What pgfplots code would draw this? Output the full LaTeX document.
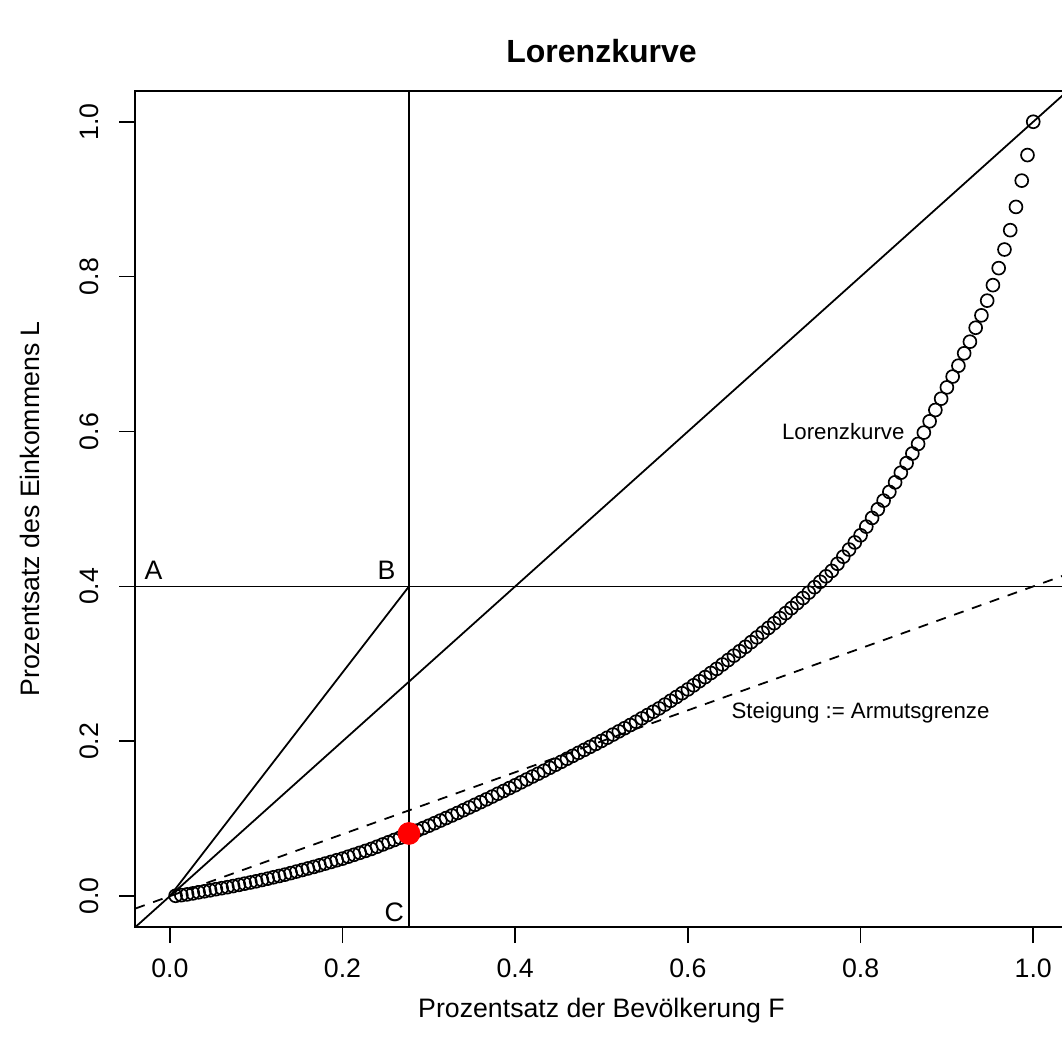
\documentclass[border=0pt]{standalone}
\usepackage{fontspec}
\setmainfont{Liberation Sans}
\usepackage{pgfplots}
\pgfplotsset{compat=1.18}
\usepackage{pgfplotstable}
\pgfplotstableread{
i L
1 0.0005
2 0.0013
3 0.0023
4 0.0036
5 0.0050
6 0.0063
7 0.0076
8 0.0090
9 0.0103
10 0.0116
11 0.0131
12 0.0146
13 0.0162
14 0.0177
15 0.0192
16 0.0209
17 0.0226
18 0.0244
19 0.0261
20 0.0278
21 0.0298
22 0.0318
23 0.0338
24 0.0358
25 0.0378
26 0.0399
27 0.0421
28 0.0442
29 0.0464
30 0.0485
31 0.0510
32 0.0535
33 0.0560
34 0.0585
35 0.0610
36 0.0639
37 0.0668
38 0.0697
39 0.0726
40 0.0755
41 0.0786
42 0.0817
43 0.0848
44 0.0879
45 0.0910
46 0.0943
47 0.0976
48 0.1009
49 0.1042
50 0.1075
51 0.1110
52 0.1145
53 0.1180
54 0.1215
55 0.1250
56 0.1286
57 0.1323
58 0.1359
59 0.1396
60 0.1432
61 0.1470
62 0.1507
63 0.1545
64 0.1582
65 0.1620
66 0.1658
67 0.1697
68 0.1735
69 0.1774
70 0.1812
71 0.1851
72 0.1889
73 0.1928
74 0.1966
75 0.2005
76 0.2046
77 0.2087
78 0.2128
79 0.2169
80 0.2210
81 0.2253
82 0.2296
83 0.2339
84 0.2382
85 0.2425
86 0.2474
87 0.2523
88 0.2572
89 0.2621
90 0.2670
91 0.2723
92 0.2776
93 0.2829
94 0.2882
95 0.2935
96 0.2992
97 0.3049
98 0.3106
99 0.3163
100 0.3220
101 0.3281
102 0.3342
103 0.3403
104 0.3464
105 0.3525
106 0.3590
107 0.3655
108 0.3720
109 0.3785
110 0.3850
111 0.3920
112 0.3990
113 0.4060
114 0.4130
115 0.4200
116 0.4292
117 0.4384
118 0.4476
119 0.4568
120 0.4660
121 0.4772
122 0.4884
123 0.4996
124 0.5108
125 0.5220
126 0.5344
127 0.5468
128 0.5592
129 0.5716
130 0.5840
131 0.5986
132 0.6132
133 0.6278
134 0.6424
135 0.6570
136 0.671
137 0.685
138 0.701
139 0.716
140 0.734
141 0.750
142 0.769
143 0.789
144 0.811
145 0.835
146 0.860
147 0.890
148 0.924
149 0.957
150 1.000
}\lorenz

\begin{document}
\begin{tikzpicture}
\begin{axis}[
  scale only axis, width=419.1pt, height=375.9pt,
  xmin=-0.04, xmax=1.04, ymin=-0.04, ymax=1.04,
  axis line style={line width=0.75pt},
  xtick={0,0.2,0.4,0.6,0.8,1}, xticklabels={0.0,0.2,0.4,0.6,0.8,1.0},
  ytick={0,0.2,0.4,0.6,0.8,1}, yticklabels={0.0,0.2,0.4,0.6,0.8,1.0},
  xtick pos=left, ytick pos=left,
  tick align=outside, major tick length=7.2pt,
  tick style={line width=0.75pt, black},
  ticklabel style={font=\fontsize{12}{14.4}\selectfont, inner sep=0pt},
  xticklabel style={anchor=north, yshift=-6.9pt},
  yticklabel style={xshift=-8.8pt, rotate=90, anchor=south},
  title={Lorenzkurve},
  title style={font=\bfseries\fontsize{14.4}{17}\selectfont, at={(axis description cs:0.5,1.0338)}, anchor=base, inner sep=0pt, yshift=-6pt},
  xlabel={Prozentsatz der Bevölkerung F},
  xlabel style={font=\fontsize{12}{14.4}\selectfont, at={(axis description cs:0.5,-0.1083)}, anchor=base, inner sep=0pt},
  ylabel={Prozentsatz des Einkommens L},
  ylabel style={font=\fontsize{12}{14.4}\selectfont, at={(axis description cs:-0.1026,0.5)}, rotate=0, anchor=base, inner sep=0pt},
]
\addplot[black, line width=0.8pt] coordinates {(-0.04,-0.04) (1.04,1.04)};
\addplot[black, line width=0.8pt] coordinates {(-0.04,0.4) (1.04,0.4)};
\addplot[black, line width=0.8pt] coordinates {(0.277,-0.04) (0.277,1.04)};
\addplot[black, line width=0.8pt] coordinates {(0,0) (0.277,0.4)};
\addplot[black, line width=0.8pt, dash pattern=on 4.5pt off 4pt] coordinates {(-0.04,-0.016) (1.04,0.416)};
\addplot[only marks, mark=o, mark size=2.9pt, mark options={line width=0.75pt, black}] table[x expr=\thisrow{i}/150, y=L] {\lorenz};
\addplot[only marks, mark=*, mark size=4.9pt, mark options={red, draw=red}] coordinates {(0.277,0.081)};
\node[anchor=base, font=\fontsize{12}{14.4}\selectfont, inner sep=0pt] at (axis cs:-0.019,0.4088) {A};
\node[anchor=base, font=\fontsize{12}{14.4}\selectfont, inner sep=0pt] at (axis cs:0.251,0.4088) {B};
\node[anchor=base, font=\fontsize{12}{14.4}\selectfont, inner sep=0pt] at (axis cs:0.260,-0.0323) {C};
\node[anchor=base, font=\fontsize{10}{12}\selectfont, inner sep=0pt] at (axis cs:0.78,0.5897) {Lorenzkurve};
\node[anchor=base, font=\fontsize{10}{12}\selectfont, inner sep=0pt] at (axis cs:0.80,0.2297) {Steigung := Armutsgrenze};
\end{axis}
\pgfresetboundingbox
\useasboundingbox ([shift={(-60.8pt,-57.1pt)}]current axis.south west) rectangle ([shift={(416.5pt,40.8pt)}]current axis.north west);
\end{tikzpicture}
\end{document}
